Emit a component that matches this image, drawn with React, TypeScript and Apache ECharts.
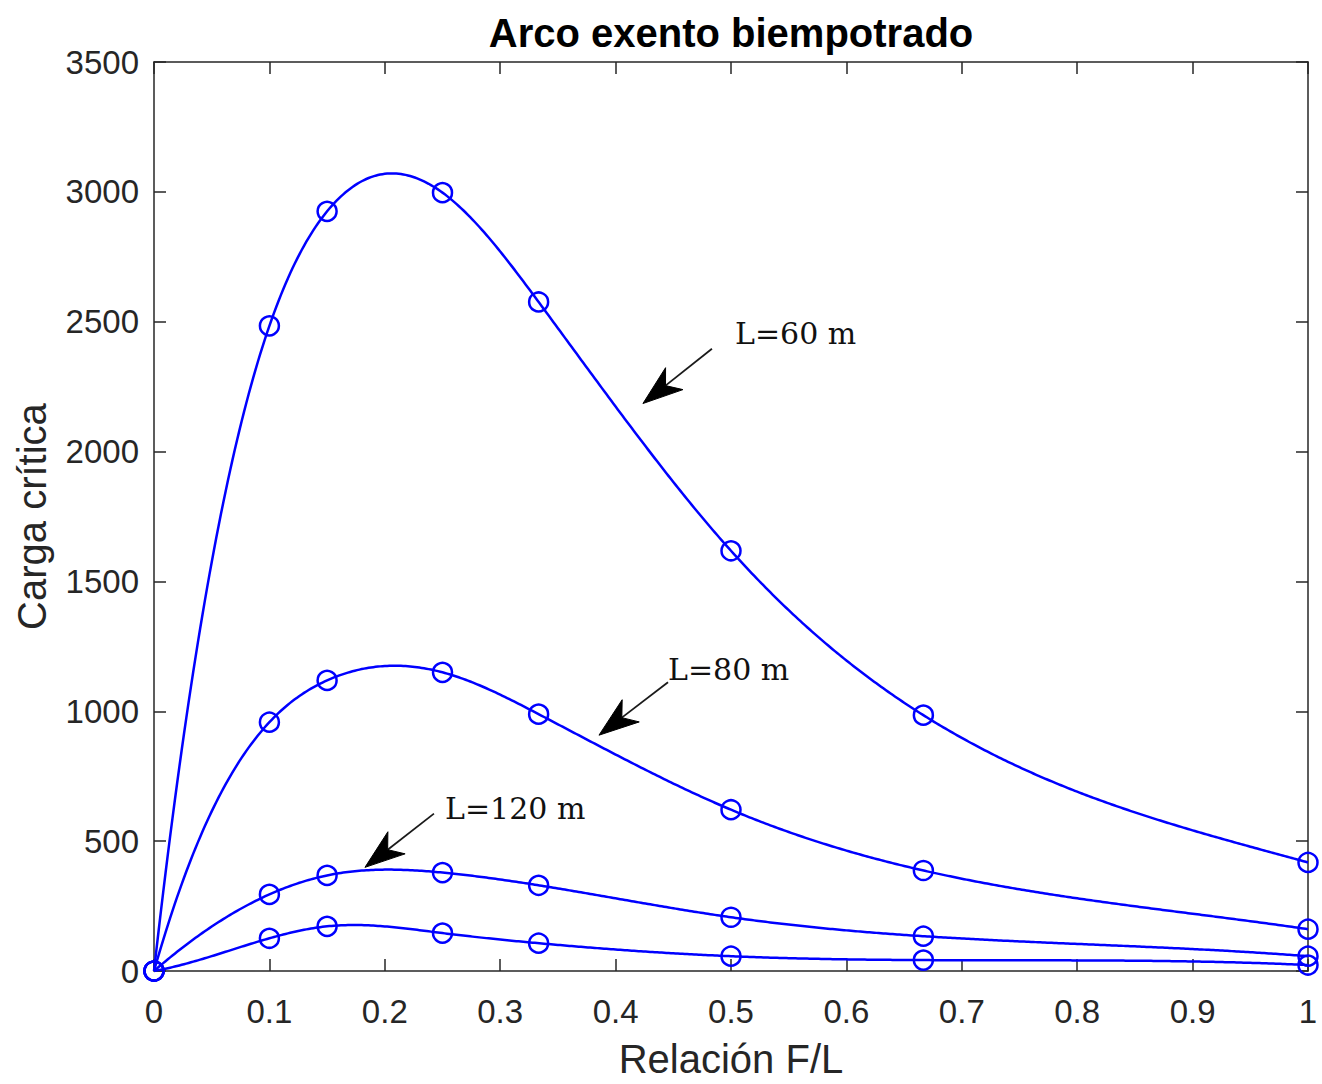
import React, { useEffect, useRef } from "react";
import * as echarts from "echarts";

const xValues = [0, 0.1, 0.15, 0.25, 0.3333, 0.5, 0.6667, 1];
const serieL60 = [0, 2484, 2925, 2997, 2576, 1618, 985, 418];
const serieL80 = [0, 958, 1119, 1150, 989, 621, 387, 161];
const serieL120 = [0, 295, 368, 379, 330, 207, 134, 57];
const serieL4 = [0, 126, 172, 146, 107, 57, 42, 23];

const xTickLabels = ["0", "0.1", "0.2", "0.3", "0.4", "0.5", "0.6", "0.7", "0.8", "0.9", "1"];

const annotationLabels = ["L=60 m", "L=80 m", "L=120 m"];
const annotationTextPos = [
  [0.5035, 2453],
  [0.4454, 1162],
  [0.2522, 626],
];
const arrowTails = [
  [0.4835, 2396],
  [0.4454, 1112],
  [0.2426, 606],
];
const arrowTips = [
  [0.4237, 2185],
  [0.3856, 908],
  [0.1828, 399],
];

const AXIS_COLOR = "#262626";
const LINE_COLOR = "#0000ff";
const SANS = "'Liberation Sans', Arial, Helvetica, sans-serif";
const SERIF = "'DejaVu Serif', 'Liberation Serif', serif";

// Not-a-knot cubic spline (as MATLAB's spline) through the data points
function splineSecondDerivs(xs: number[], ys: number[]): number[] {
  const n = xs.length;
  const h: number[] = [];
  for (let i = 0; i < n - 1; i++) h.push(xs[i + 1] - xs[i]);
  const A: number[][] = [];
  const b: number[] = [];
  for (let i = 0; i < n; i++) {
    A.push(new Array(n).fill(0));
    b.push(0);
  }
  A[0][0] = -h[1];
  A[0][1] = h[0] + h[1];
  A[0][2] = -h[0];
  for (let i = 1; i < n - 1; i++) {
    A[i][i - 1] = h[i - 1];
    A[i][i] = 2 * (h[i - 1] + h[i]);
    A[i][i + 1] = h[i];
    b[i] = 6 * ((ys[i + 1] - ys[i]) / h[i] - (ys[i] - ys[i - 1]) / h[i - 1]);
  }
  A[n - 1][n - 3] = -h[n - 2];
  A[n - 1][n - 2] = h[n - 3] + h[n - 2];
  A[n - 1][n - 1] = -h[n - 3];
  for (let c = 0; c < n; c++) {
    let p = c;
    for (let r = c + 1; r < n; r++) if (Math.abs(A[r][c]) > Math.abs(A[p][c])) p = r;
    [A[c], A[p]] = [A[p], A[c]];
    [b[c], b[p]] = [b[p], b[c]];
    for (let r = c + 1; r < n; r++) {
      const f = A[r][c] / A[c][c];
      if (f === 0) continue;
      for (let k = c; k < n; k++) A[r][k] -= f * A[c][k];
      b[r] -= f * b[c];
    }
  }
  const M = new Array(n).fill(0);
  for (let r = n - 1; r >= 0; r--) {
    let s = b[r];
    for (let k = r + 1; k < n; k++) s -= A[r][k] * M[k];
    M[r] = s / A[r][r];
  }
  return M;
}

function splineEval(xs: number[], ys: number[], M: number[], x: number): number {
  let i = 0;
  while (i < xs.length - 2 && x > xs[i + 1]) i++;
  const h = xs[i + 1] - xs[i];
  const a = xs[i + 1] - x;
  const c = x - xs[i];
  return (
    (M[i] * a * a * a) / (6 * h) +
    (M[i + 1] * c * c * c) / (6 * h) +
    (ys[i] / h - (M[i] * h) / 6) * a +
    (ys[i + 1] / h - (M[i + 1] * h) / 6) * c
  );
}

function curveSeries(name: string, values: number[]) {
  const M = splineSecondDerivs(xValues, values);
  return {
    name: name + " curve",
    type: "custom",
    data: [[xValues[0], values[0]]],
    silent: true,
    z: 2,
    renderItem: (_params: any, api: any) => {
      const pts: number[][] = [];
      const steps = 500;
      const x0 = xValues[0];
      const x1 = xValues[xValues.length - 1];
      for (let s = 0; s <= steps; s++) {
        const x = x0 + ((x1 - x0) * s) / steps;
        pts.push(api.coord([x, splineEval(xValues, values, M, x)]));
      }
      return {
        type: "polyline",
        shape: { points: pts },
        style: { stroke: LINE_COLOR, lineWidth: 2.5, fill: null },
      };
    },
  };
}

function markerSeries(name: string, values: number[]) {
  return {
    name,
    type: "scatter",
    data: xValues.map((x, i) => [x, values[i]]),
    symbol: "circle",
    symbolSize: 19,
    itemStyle: { color: "rgba(0,0,0,0)", borderColor: LINE_COLOR, borderWidth: 2.5, opacity: 1 },
    emphasis: { disabled: true },
    silent: true,
    z: 3,
  };
}

export default function App() {
  const ref = useRef<HTMLDivElement>(null);

  useEffect(() => {
    document.body.style.margin = "0";
    if (!ref.current) return;
    const chart = echarts.init(ref.current, undefined, { renderer: "svg" });

    const hiddenAxisCommon = {
      axisLabel: { show: false },
      axisLine: { show: true, onZero: false, lineStyle: { color: AXIS_COLOR, width: 1.5 } },
      axisTick: { show: true, inside: true, length: 12, lineStyle: { color: AXIS_COLOR, width: 1.5 } },
      splitLine: { show: false },
    };

    chart.setOption({
      animation: false,
      backgroundColor: "#ffffff",
      title: {
        text: "Arco exento biempotrado",
        left: 726,
        top: 8,
        textAlign: "center",
        textStyle: { fontFamily: SANS, fontSize: 40, fontWeight: "bold", color: "#000" },
      },
      grid: { left: 154, right: 14, top: 62, bottom: 109, containLabel: false },
      xAxis: [
        {
          type: "value",
          min: 0,
          max: 1,
          interval: 0.1,
          position: "bottom",
          name: "Relación F/L",
          nameLocation: "middle",
          nameGap: 68,
          nameTextStyle: { fontFamily: SANS, fontSize: 40, color: AXIS_COLOR },
          axisLine: { show: true, onZero: false, lineStyle: { color: AXIS_COLOR, width: 1.5 } },
          axisTick: { show: true, inside: true, length: 12, lineStyle: { color: AXIS_COLOR, width: 1.5 } },
          axisLabel: {
            margin: 24,
            fontFamily: SANS,
            fontSize: 33,
            color: AXIS_COLOR,
            formatter: (v: number) => xTickLabels[Math.round(v * 10)] ?? String(v),
          },
          splitLine: { show: false },
        },
        { type: "value", min: 0, max: 1, interval: 0.1, position: "top", ...hiddenAxisCommon },
      ],
      yAxis: [
        {
          type: "value",
          min: 0,
          max: 3500,
          interval: 500,
          position: "left",
          name: "Carga crítica",
          nameLocation: "middle",
          nameGap: 102,
          nameRotate: 90,
          nameTextStyle: { fontFamily: SANS, fontSize: 40, color: AXIS_COLOR },
          axisLine: { show: true, onZero: false, lineStyle: { color: AXIS_COLOR, width: 1.5 } },
          axisTick: { show: true, inside: true, length: 12, lineStyle: { color: AXIS_COLOR, width: 1.5 } },
          axisLabel: {
            margin: 15,
            fontFamily: SANS,
            fontSize: 33,
            color: AXIS_COLOR,
            padding: [4, 0, 0, 0],
            formatter: (v: number) => String(v),
          },
          splitLine: { show: false },
        },
        { type: "value", min: 0, max: 3500, interval: 500, position: "right", ...hiddenAxisCommon },
      ],
      series: [
        curveSeries("L=60 m", serieL60),
        curveSeries("L=80 m", serieL80),
        curveSeries("L=120 m", serieL120),
        curveSeries("L4", serieL4),
        markerSeries("L=60 m", serieL60),
        markerSeries("L=80 m", serieL80),
        markerSeries("L=120 m", serieL120),
        markerSeries("L4", serieL4),
      ],
    });

    const toPx = (p: number[]) =>
      chart.convertToPixel({ xAxisIndex: 0, yAxisIndex: 0 }, p) as number[];

    const graphics: any[] = [];
    annotationLabels.forEach((label, i) => {
      const tp = toPx(annotationTextPos[i]);
      graphics.push({
        type: "text",
        x: tp[0],
        y: tp[1],
        style: {
          text: label,
          font: `30px ${SERIF}`,
          fill: "#111",
          align: "left",
          verticalAlign: "middle",
        },
        z: 10,
      });
      const tail = toPx(arrowTails[i]);
      const tip = toPx(arrowTips[i]);
      const dx = tip[0] - tail[0];
      const dy = tip[1] - tail[1];
      const len = Math.sqrt(dx * dx + dy * dy);
      const ux = dx / len;
      const uy = dy / len;
      const nx = -uy;
      const ny = ux;
      const headLen = 40;
      const headW = 14;
      const notch = [tip[0] - ux * headLen * 0.72, tip[1] - uy * headLen * 0.72];
      const b1 = [tip[0] - ux * headLen + nx * headW, tip[1] - uy * headLen + ny * headW];
      const b2 = [tip[0] - ux * headLen - nx * headW, tip[1] - uy * headLen - ny * headW];
      graphics.push({
        type: "line",
        shape: { x1: tail[0], y1: tail[1], x2: notch[0], y2: notch[1] },
        style: { stroke: "#1a1a1a", lineWidth: 1.8 },
        z: 10,
      });
      graphics.push({
        type: "polygon",
        shape: { points: [tip, b1, notch, b2] },
        style: { fill: "#000", stroke: "#000", lineWidth: 1 },
        z: 10,
      });
    });

    chart.setOption({ graphic: graphics });

    return () => {
      chart.dispose();
    };
  }, []);

  return <div ref={ref} style={{ width: 1322, height: 1084 }} />;
}
